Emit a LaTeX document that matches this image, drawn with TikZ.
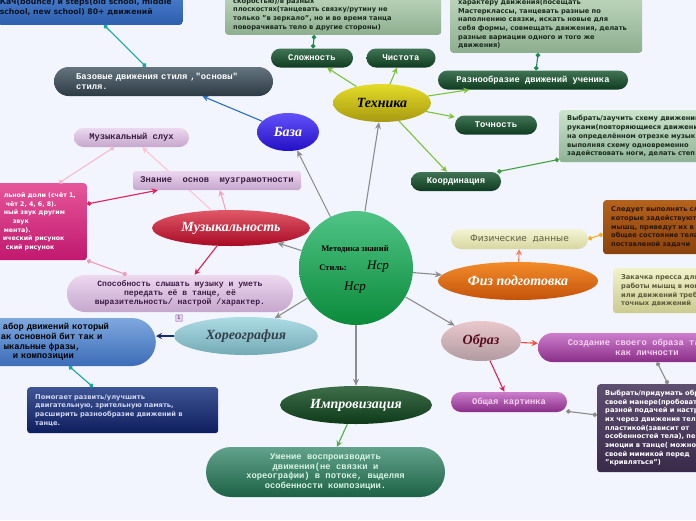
\documentclass[tikz,border=0pt]{standalone}
\usepackage{fontspec}
\setmainfont{Liberation Serif}
\setsansfont{DejaVu Sans}
\setmonofont{Liberation Mono}
\usepackage{tikz}
\usetikzlibrary{shapes.geometric,arrows.meta,backgrounds}
\usepackage{xcolor}
\definecolor{paper}{HTML}{F2F5FD}
\definecolor{wire}{HTML}{8C8C8C}
\definecolor{leafgreen}{HTML}{7CC23C}
\definecolor{hubTop}{HTML}{4FC486}
\definecolor{hubBot}{HTML}{0B8A3A}
\definecolor{bazaTop}{HTML}{6252FA}
\definecolor{bazaBot}{HTML}{2410C4}
\definecolor{techTop}{HTML}{E4DC28}
\definecolor{techBot}{HTML}{A89A10}
\definecolor{muzTop}{HTML}{E05868}
\definecolor{muzBot}{HTML}{A80A24}
\definecolor{fizTop}{HTML}{F28C2A}
\definecolor{fizBot}{HTML}{C4520A}
\definecolor{obrTop}{HTML}{EAC8CC}
\definecolor{obrBot}{HTML}{B09AA0}
\definecolor{obrInk}{HTML}{5A0A1E}
\definecolor{horTop}{HTML}{ACDCE4}
\definecolor{horBot}{HTML}{74AAB6}
\definecolor{horInk}{HTML}{34404C}
\definecolor{impTop}{HTML}{3E6E4A}
\definecolor{impBot}{HTML}{0E3A1A}
\definecolor{pineTop}{HTML}{407454}
\definecolor{pineBot}{HTML}{0F3B20}
\definecolor{sageTop}{HTML}{BCD6BC}
\definecolor{sageBot}{HTML}{8EAE90}
\definecolor{mintTop}{HTML}{CCE4CC}
\definecolor{mintBot}{HTML}{8EB296}
\definecolor{sageInk}{HTML}{1C2C1E}
\definecolor{lilacTop}{HTML}{ECD8EF}
\definecolor{lilacBot}{HTML}{C6A6CE}
\definecolor{lilacInk}{HTML}{3C1C44}
\definecolor{plumTop}{HTML}{CC7ECC}
\definecolor{plumBot}{HTML}{8A2E88}
\definecolor{plumInk}{HTML}{F4D0F0}
\definecolor{skyTop}{HTML}{4C84D2}
\definecolor{skyBot}{HTML}{2E5EAE}
\definecolor{skyInk}{HTML}{0C1424}
\definecolor{slateTop}{HTML}{64747F}
\definecolor{slateBot}{HTML}{2C3A44}
\definecolor{pinkTop}{HTML}{E6569A}
\definecolor{pinkBot}{HTML}{C0186E}
\definecolor{cornTop}{HTML}{7EA8DE}
\definecolor{cornBot}{HTML}{3C6CB8}
\definecolor{navyTop}{HTML}{3E5494}
\definecolor{navyBot}{HTML}{0E1E5E}
\definecolor{navyInk}{HTML}{CCD4F0}
\definecolor{badgeEdge}{HTML}{A080B0}
\definecolor{badgeFill}{HTML}{E4CCEE}
\definecolor{jadeTop}{HTML}{62A28C}
\definecolor{jadeBot}{HTML}{1C6246}
\definecolor{jadeInk}{HTML}{D8F4E4}
\definecolor{strawTop}{HTML}{F4F4D4}
\definecolor{strawBot}{HTML}{D6D6A0}
\definecolor{strawInk}{HTML}{5E5E40}
\definecolor{rustTop}{HTML}{B4621C}
\definecolor{rustBot}{HTML}{8A420E}
\definecolor{rustInk}{HTML}{2E1604}
\definecolor{khakiTop}{HTML}{F2F2CA}
\definecolor{khakiBot}{HTML}{CACA90}
\definecolor{khakiInk}{HTML}{5C5C3C}
\definecolor{duskTop}{HTML}{5E4E70}
\definecolor{duskBot}{HTML}{3A2A4A}
\definecolor{crimson}{HTML}{E0205A}
\definecolor{blush}{HTML}{F8BACE}
\definecolor{paleblush}{HTML}{FFC4D4}
\definecolor{candy}{HTML}{F8A0BC}
\definecolor{rose}{HTML}{F09AB8}
\definecolor{tealwire}{HTML}{18A6A6}
\definecolor{pinewire}{HTML}{1E8A50}
\definecolor{grasswire}{HTML}{3EA03E}
\definecolor{amberwire}{HTML}{F4B020}
\definecolor{salmon}{HTML}{F48060}
\definecolor{vermilion}{HTML}{F04838}
\definecolor{bazawire}{HTML}{2A6EC0}
\definecolor{impwire}{HTML}{50B040}
\definecolor{navy}{HTML}{1C2C68}
\tikzset{
  topic/.style={ellipse, inner sep=0pt, font=\bfseries\itshape\fontsize{14}{16}\selectfont},
  pill/.style={rectangle, inner sep=0pt, align=center, font=\ttfamily\bfseries\fontsize{8.8}{9.6}\selectfont},
  pinepill/.style={pill, rounded corners=9.5pt, minimum height=19pt, top color=pineTop, bottom color=pineBot, text=white},
  lilacpill/.style={pill, top color=lilacTop, bottom color=lilacBot, text=lilacInk},
  plumpill/.style={pill, top color=plumTop, bottom color=plumBot, text=plumInk},
  note/.style={rectangle, rounded corners=3pt, inner xsep=8pt, inner ysep=4pt, align=left,
    font=\sffamily\bfseries\fontsize{6.7}{8.7}\selectfont},
  spoke/.style={-{Stealth[length=7pt,width=6pt]}, wire, line width=1.1pt},
  twig/.style={-{Stealth[length=6pt,width=6pt]}, line width=1.1pt},
  pin/.style={{Circle[length=4.5pt]}-{Circle[length=4.5pt]}, line width=1.1pt},
}

\begin{document}
\begin{tikzpicture}[x=1pt, y=-1pt]
  \useasboundingbox (0,0) rectangle (696,520);
  \clip (0,0) rectangle (696,520);

  % centre
  \node[circle, minimum size=114pt, inner sep=0pt, top color=hubTop, bottom color=hubBot] (hub) at (356,268) {};
  \node[font=\bfseries\fontsize{8.5}{10}\selectfont] (hubtitle) at (355,249) {Методика знаний};
  \node[font=\bfseries\fontsize{8.5}{10}\selectfont] (hubstyle) at (333,268) {Стиль:};
  \node[font=\itshape\fontsize{13}{14}\selectfont] (sign1) at (378,267) {Нср};
  \node[font=\itshape\fontsize{13}{14}\selectfont] (sign2) at (355,288) {Нср};

  % main topics
  \node[topic, minimum width=62pt, minimum height=38pt, top color=bazaTop, bottom color=bazaBot, text=white] (baza) at (288,132) {База};
  \node[topic, minimum width=98pt, minimum height=38pt, top color=techTop, bottom color=techBot] (tech) at (382,103) {Техника};
  \node[topic, minimum width=158pt, minimum height=36pt, top color=muzTop, bottom color=muzBot, text=white] (muz) at (231,228) {Музыкальность};
  \node[topic, minimum width=160pt, minimum height=38pt, top color=fizTop, bottom color=fizBot, text=white] (fiz) at (518,281) {Физ подготовка};
  \node[topic, minimum width=80pt, minimum height=40pt, top color=obrTop, bottom color=obrBot, text=obrInk] (obraz) at (481,341) {Образ};
  \node[topic, minimum width=144pt, minimum height=38pt, top color=horTop, bottom color=horBot, text=horInk] (horeo) at (246,336) {Хореография};
  \node[topic, minimum width=152pt, minimum height=38pt, top color=impTop, bottom color=impBot, text=white] (impr) at (356,405) {Импровизация};

  % Техника
  \node[pinepill, minimum width=82pt] (slozh) at (312,58) {Сложность};
  \node[pinepill, minimum width=69pt] (chist) at (401,58) {Чистота};
  \node[pinepill, minimum width=190pt] (razn) at (533,80) {Разнообразие движений ученика};
  \node[pinepill, minimum width=82pt] (tochn) at (496,125) {Точность};
  \node[pinepill, minimum width=90pt] (koord) at (456,181.5) {Координация};
  \node[note, anchor=south west, text width=200pt, top color=sageTop, bottom color=sageBot, text=sageInk] (slozhnote) at (225,35)
    {скоростью)/в разных\\плоскостях(танцевать связку/рутину не\\только "в зеркало", но и во время танца\\поворачивать тело в другие стороны)};
  \node[note, anchor=south west, text width=176pt, top color=sageTop, bottom color=sageBot, text=sageInk] (raznnote) at (450,53)
    {характеру движения(посещать\\Мастерклассы, танцевать разные по\\наполнению связки, искать новые для\\себя формы, совмещать движения, делать\\разные вариации одного и того же\\движения)};
  \node[note, anchor=north west, text width=240pt, minimum height=52pt, top color=mintTop, bottom color=mintBot, text=sageInk] (koordnote) at (559,110)
    {Выбрать/заучить схему движений\\руками(повторяющиеся движения\\на определённом отрезке музыки\\выполняя схему одновременно\\задействовать ноги, делать степ};

  % База
  \node[note, anchor=south east, text width=181pt, inner xsep=2pt, minimum height=36pt, top color=skyTop, bottom color=skyBot, text=skyInk,
    font=\sffamily\bfseries\fontsize{7.7}{10}\selectfont] (bazanote) at (183,25)
    {Кач(bounce) и steps(old school, middle\\school, new school) 80+ движений};
  \node[pill, align=left, text width=175pt, minimum width=219pt, minimum height=29pt, rounded corners=14.5pt, top color=slateTop, bottom color=slateBot, text=white] (basepill) at (163.5,81.5)
    {Базовые движения стиля ,"основы"\\стиля.};

  % Музыкальность
  \node[lilacpill, minimum width=115pt, minimum height=19pt, rounded corners=9.5pt] (sluh) at (131.5,137.5) {Музыкальный слух};
  \node[lilacpill, minimum width=168pt, minimum height=19pt, rounded corners=3pt] (znanie) at (217,180.5) {Знание\ \ основ\ \ музграмотности};
  \node[lilacpill, minimum width=226pt, minimum height=37pt, rounded corners=18pt, font=\ttfamily\bfseries\fontsize{8.1}{9.2}\selectfont] (sposob) at (180,293.5)
    {Способность слышать музыку и уметь\\передать её в танце, её\\выразительность/ настрой /характер.};
  \node[note, anchor=north east, inner xsep=2pt, text width=200pt, minimum height=77pt, top color=pinkTop, bottom color=pinkBot, text=white,
    font=\sffamily\bfseries\fontsize{6.3}{8.7}\selectfont] (muznote) at (87,183)
    {\hspace*{119pt}льной доли (счёт 1,\\\hspace*{121pt}чёт 2, 4, 6, 8).\\\hspace*{119pt}ный звук другим\\\hspace*{128pt}звук\\\hspace*{119pt}мента).\\\hspace*{118pt}ический рисунок\\\hspace*{121pt}ский рисунок};

  % Хореография
  \node[pill, align=left, anchor=east, text width=200pt, minimum height=48pt, rounded corners=24pt, top color=cornTop, bottom color=cornBot, text=black] (horeopill) at (156,342)
    {\hspace*{47pt}абор движений который\\\hspace*{45pt}ак основной бит так и\\\hspace*{48pt}ыкальные фразы,\\\hspace*{57pt}и композиции};
  \node[note, anchor=north west, text width=175pt, minimum height=46pt, top color=navyTop, bottom color=navyBot, text=navyInk] (horeonote) at (27,387)
    {Помогает развить/улучшить\\двигательную, зрительную память,\\расширить разнообразие движений в\\танце.};
  \node[draw=badgeEdge, fill=badgeFill, rounded corners=1pt, minimum size=7pt, inner sep=0pt, font=\sffamily\fontsize{5}{5}\selectfont, text=lilacInk] (badge) at (179,318) {1};

  % Импровизация
  \node[pill, minimum width=239pt, minimum height=50pt, rounded corners=25pt, top color=jadeTop, bottom color=jadeBot, text=jadeInk] (umenie) at (325.5,472)
    {Умение воспроизводить\\движения(не связки и\\хореографии) в потоке, выделяя\\особенности композиции.};

  % Физ подготовка
  \node[rectangle, rounded corners=10pt, minimum width=137pt, minimum height=20pt, inner sep=0pt, top color=strawTop, bottom color=strawBot, text=strawInk, font=\sffamily\fontsize{9}{10}\selectfont] (fizdata) at (519.5,239) {Физические\ \ данные};
  \node[note, anchor=north west, text width=150pt, minimum height=54pt, top color=rustTop, bottom color=rustBot, text=rustInk] (fiznote) at (603,200)
    {Следует выполнять следующие\\которые задействуют\\мышц, приведут их в\\общее состояние тела\\поставленой задачи};
  \node[note, anchor=north west, text width=150pt, minimum height=45pt, top color=khakiTop, bottom color=khakiBot, text=khakiInk] (pressnote) at (613,268)
    {Закачка пресса для\\работы мышц в моменте\\или движений требующих\\точных движений};

  % Образ
  \node[plumpill, minimum width=218pt, minimum height=29pt, rounded corners=14.5pt] (sozd) at (647,347.5)
    {Создание своего образа танцора\\как личности};
  \node[plumpill, minimum width=116pt, minimum height=20pt, rounded corners=10pt] (obsh) at (509,402) {Общая картинка};
  \node[note, anchor=north west, text width=150pt, minimum height=88pt, top color=duskTop, bottom color=duskBot, text=white] (obraznote) at (597,384)
    {Выбрать/придумать образ\\своей манере(пробовать\\разной подачей и настроением\\их через движения тела\\пластикой(зависит от\\особенностей тела), передавать\\эмоции в танце( можно\\своей мимикой перед\\"кривляться")};

  % connectors
  \foreach \t in {baza,tech,fiz,obraz,impr,horeo,muz}
    \draw[spoke] (hub) -- (\t);
  \foreach \t in {slozh,chist,razn,tochn,koord}
    \draw[twig, leafgreen] (tech) -- (\t);

  \draw[twig, bazawire] (baza) -- ([xshift=39pt]basepill.south);
  \draw[pin, tealwire] ([xshift=-79pt]bazanote.south east) -- ([xshift=-17.5pt]basepill.north);
  \draw[pin, pinewire] ([xshift=-19pt]slozhnote.south) -- ([xshift=1pt]slozh.north);
  \draw[pin, pinewire] ([xshift=-8pt]raznnote.south) -- ([xshift=3pt]razn.north);
  \draw[pin, grasswire] ([yshift=3pt]koordnote.south west) -- ([xshift=-4pt]koord.north east);

  \draw[twig, salmon] (fiz) -- (fizdata);
  \draw[pin, amberwire] (fizdata.east) -- ([yshift=-7pt]fiznote.west);

  \draw[twig, vermilion] (obraz) -- (sozd);
  \draw[twig, crimson] (obraz) -- (obsh);
  \draw[pin, wire] ([xshift=-1pt,yshift=1pt]obsh.south east) -- ([yshift=-31pt]obraznote.north west);
  \draw[pin, wire] ([xshift=10pt]sozd.south) -- ([xshift=71pt]obraznote.north west);

  \draw[twig, impwire] (impr) -- (umenie);
  \draw[twig, navy] (horeo.west) -- (horeo.west -| horeopill.east);
  \draw[pin, tealwire] ([xshift=-87pt]horeopill.south east) -- ([xshift=66pt]horeonote.north west);

  \draw[twig, candy] (muz) -- (znanie);
  \draw[twig, crimson] (muz) -- (sposob);
  \draw[pin, blush] ([xshift=-28pt]muznote.north east) -- ([xshift=-17.5pt]sluh.south);
  \draw[{Circle[length=4.5pt]}-{Stealth[length=6pt,width=6pt]}, line width=1.1pt, crimson] ([yshift=-21pt]muznote.north east) -- ([xshift=25pt]znanie.south west);
  \draw[pin, rose] (muznote.south east) -- ([xshift=60pt]sposob.north west);

  \begin{pgfonlayer}{background}
    \fill[paper] (0,0) rectangle (696,520);
    \draw[twig, paleblush] (muz) -- (sluh);
  \end{pgfonlayer}
\end{tikzpicture}
\end{document}
